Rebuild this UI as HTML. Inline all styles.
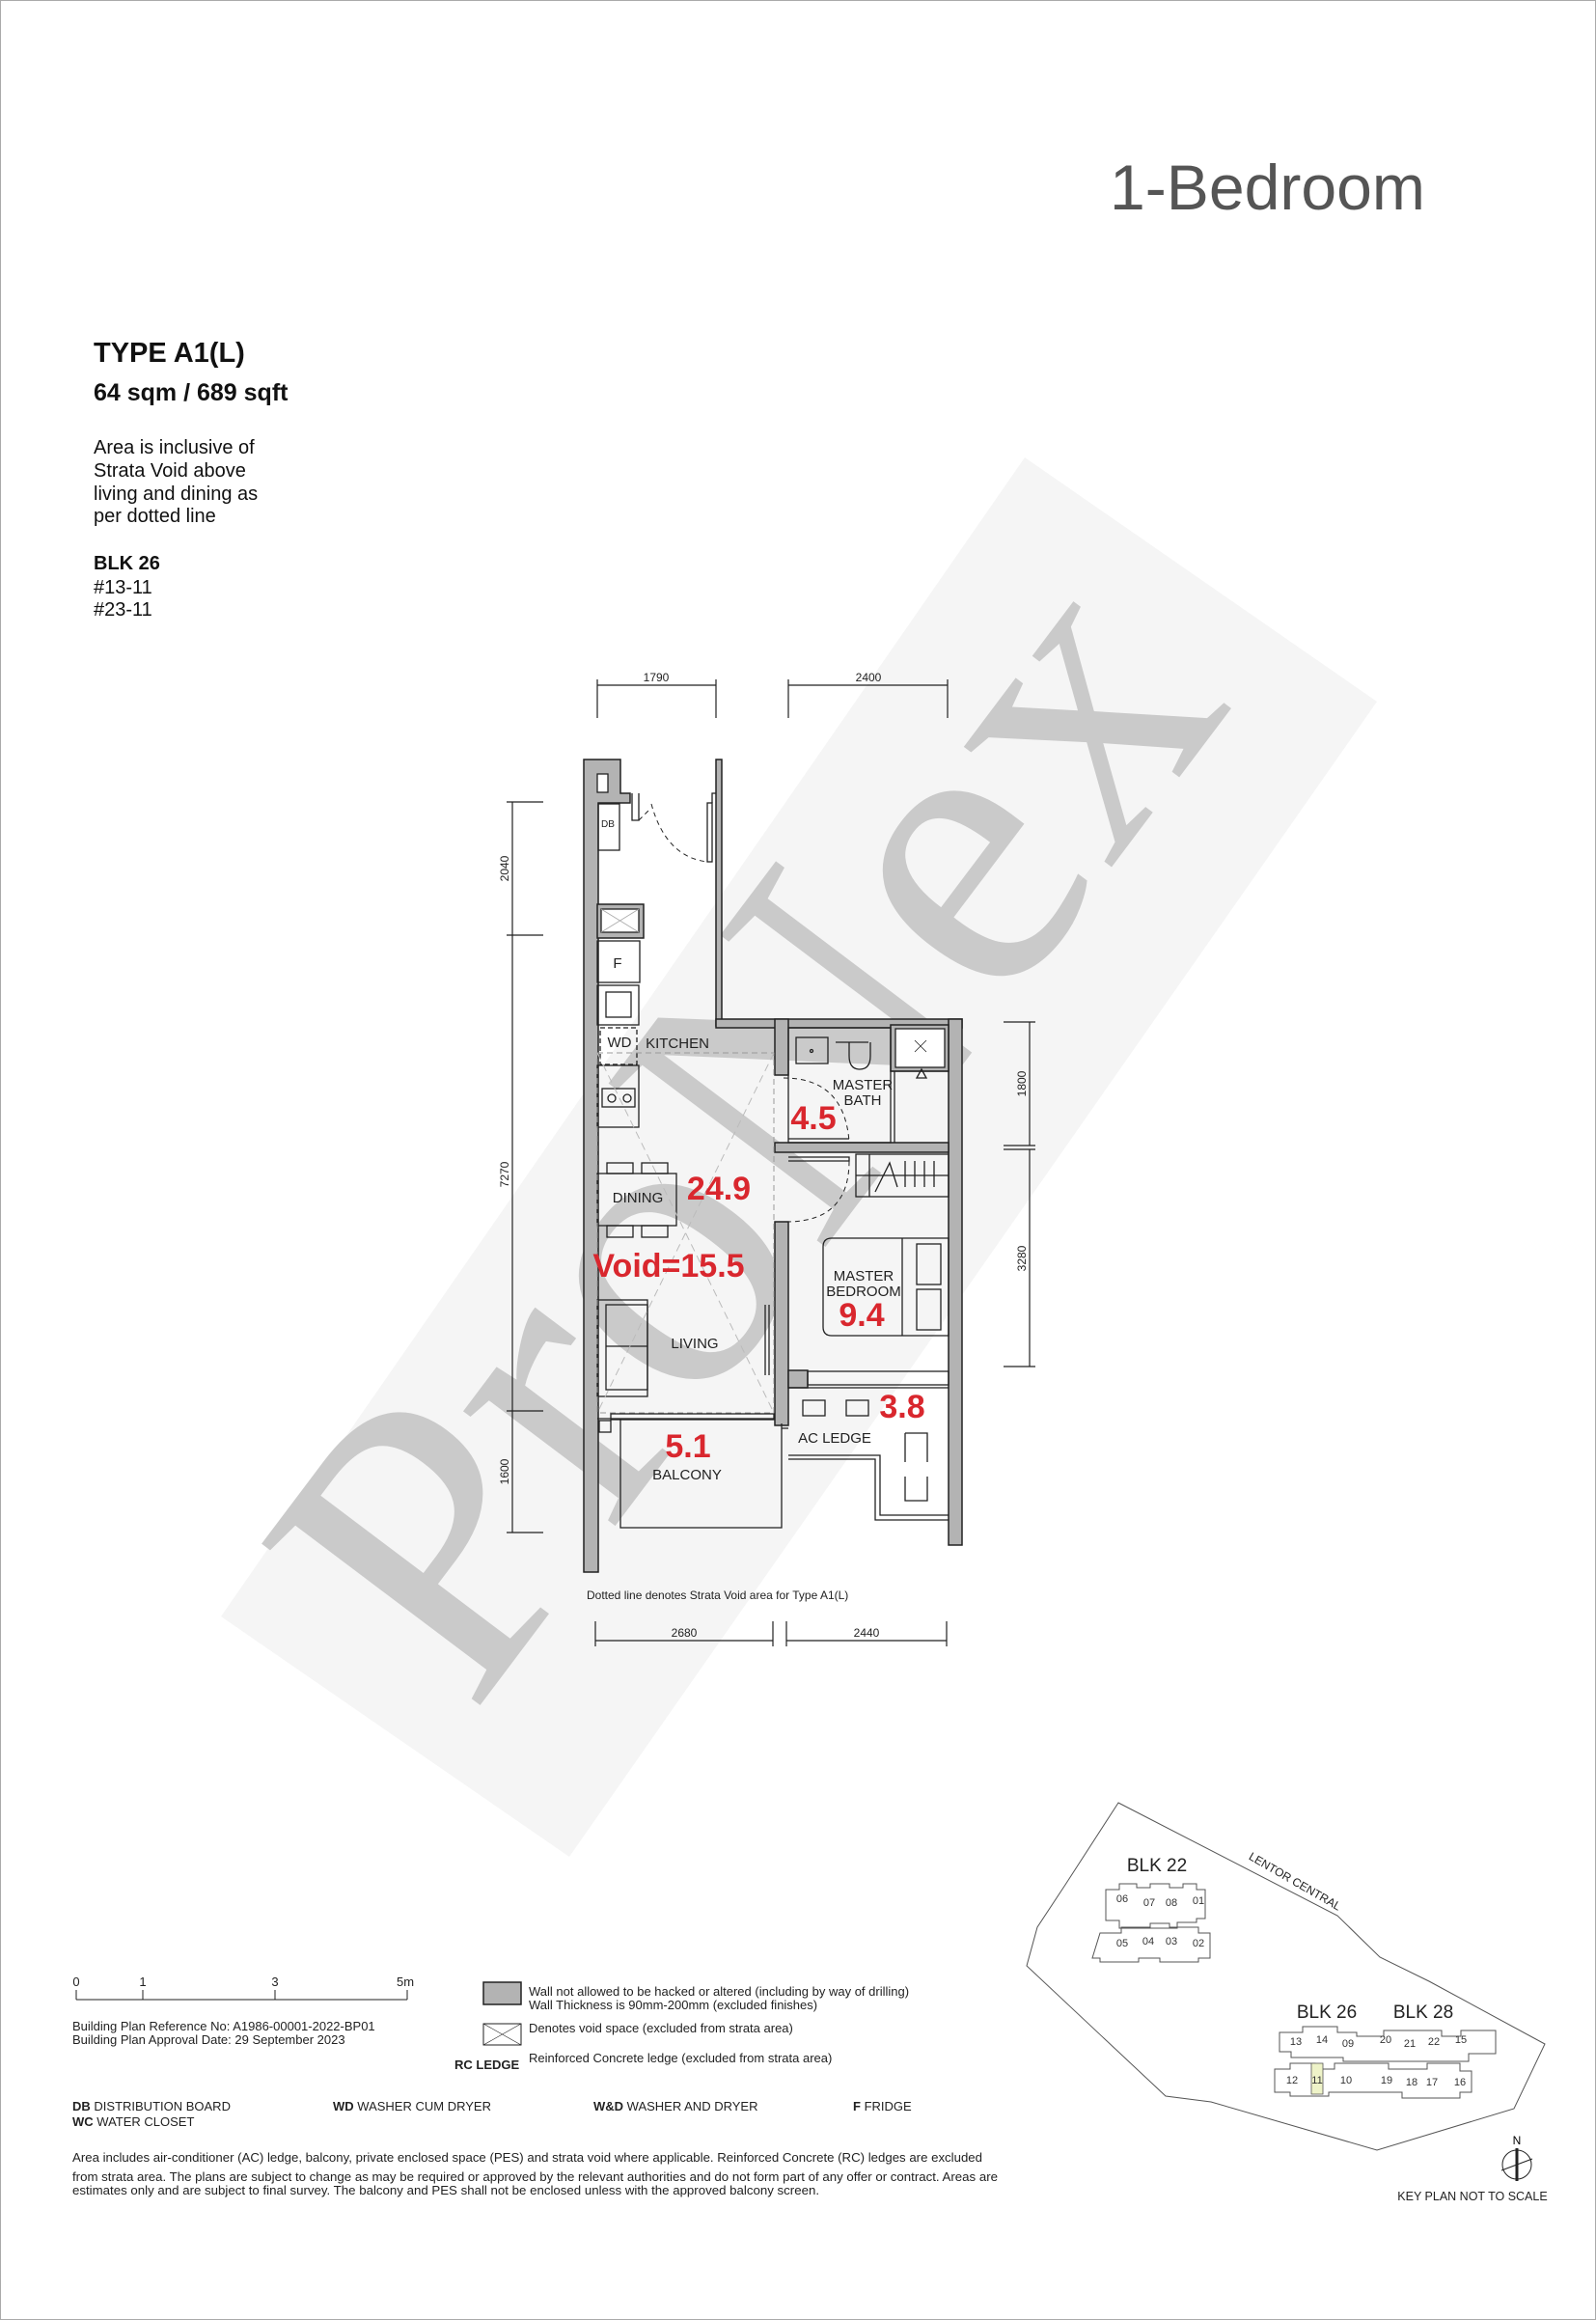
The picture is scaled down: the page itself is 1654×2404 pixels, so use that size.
<!DOCTYPE html>
<html><head><meta charset="utf-8"><style>
html,body{margin:0;padding:0;background:#fff}
svg{display:block}
text{font-family:"Liberation Sans",Arial,sans-serif}
.n{font-family:"Liberation Sans Narrow","Liberation Sans",sans-serif}
.r{fill:#d9272e;font-weight:bold;font-family:"Liberation Sans Narrow","Liberation Sans",sans-serif}
</style></head><body>
<svg width="1654" height="2404" viewBox="0 0 1654 2404" xmlns="http://www.w3.org/2000/svg">
<rect x="0.5" y="0.5" width="1653" height="2403" fill="#fff" stroke="#aaa"/>
<!-- watermark band -->
<polygon points="229,1675 1062,474 1427,727 590,1924" fill="#f5f5f5"/>
<text x="0" y="0" transform="translate(805,1195) rotate(-53)" text-anchor="middle" dominant-baseline="middle" font-size="430" fill="#cacaca" style="font-family:'Liberation Serif',serif">ProNex</text>

<!-- header -->
<text x="1150" y="217" font-size="66" fill="#555" textLength="327" lengthAdjust="spacingAndGlyphs">1-Bedroom</text>
<g fill="#111">
<text x="97" y="375" font-size="29" font-weight="bold" class="n">TYPE A1(L)</text>
<text x="97" y="415" font-size="25" font-weight="bold" class="n">64 sqm / 689 sqft</text>
<text x="97" y="470" font-size="20" class="n">Area is inclusive of</text>
<text x="97" y="494" font-size="20" class="n">Strata Void above</text>
<text x="97" y="518" font-size="20" class="n">living and dining as</text>
<text x="97" y="541" font-size="20" class="n">per dotted line</text>
<text x="97" y="590" font-size="20" font-weight="bold" class="n">BLK 26</text>
<text x="97" y="615" font-size="20" class="n">#13-11</text>
<text x="97" y="638" font-size="20" class="n">#23-11</text>
</g>

<!-- dimensions -->
<g stroke="#222" stroke-width="1.2" fill="none">
<line x1="619" y1="710" x2="742" y2="710"/><line x1="619" y1="704" x2="619" y2="744"/><line x1="742" y1="704" x2="742" y2="744"/>
<line x1="817" y1="710" x2="982" y2="710"/><line x1="817" y1="704" x2="817" y2="744"/><line x1="982" y1="704" x2="982" y2="744"/>
<line x1="531" y1="831" x2="531" y2="1588"/>
<line x1="525" y1="831" x2="563" y2="831"/><line x1="525" y1="969" x2="563" y2="969"/><line x1="525" y1="1462" x2="563" y2="1462"/><line x1="525" y1="1588" x2="563" y2="1588"/>
<line x1="1067" y1="1059" x2="1067" y2="1187"/><line x1="1067" y1="1191" x2="1067" y2="1416"/>
<line x1="1040" y1="1059" x2="1073" y2="1059"/><line x1="1040" y1="1187" x2="1073" y2="1187"/><line x1="1040" y1="1191" x2="1073" y2="1191"/><line x1="1040" y1="1416" x2="1073" y2="1416"/>
<line x1="617" y1="1700" x2="801" y2="1700"/><line x1="617" y1="1680" x2="617" y2="1706"/><line x1="801" y1="1680" x2="801" y2="1706"/>
<line x1="815" y1="1700" x2="981" y2="1700"/><line x1="815" y1="1680" x2="815" y2="1706"/><line x1="981" y1="1680" x2="981" y2="1706"/>
</g>
<g font-size="12" fill="#222" text-anchor="middle">
<text x="680" y="706">1790</text><text x="900" y="706">2400</text>
<text x="709" y="1696">2680</text><text x="898" y="1696">2440</text>
<text transform="translate(527,900) rotate(-90)">2040</text>
<text transform="translate(527,1217) rotate(-90)">7270</text>
<text transform="translate(527,1525) rotate(-90)">1600</text>
<text transform="translate(1063,1123) rotate(-90)">1800</text>
<text transform="translate(1063,1304) rotate(-90)">3280</text>
</g>

<!-- walls -->
<g fill="#b3b3b3" stroke="#222" stroke-width="1.5">
<polygon points="605,787 643,787 643,822 653,822 653,832 620,832 620,1629 605,1629"/>
<rect x="742" y="787" width="6" height="276"/>
<rect x="742" y="1056" width="255" height="9"/>
<rect x="983" y="1056" width="14" height="545"/>
<rect x="803" y="1056" width="14" height="58"/>
<rect x="803" y="1266" width="14" height="211"/>
<rect x="817" y="1420" width="20" height="18"/>
<rect x="803" y="1184" width="180" height="10"/>
<rect x="619" y="937" width="48" height="35"/>
<rect x="923" y="1062" width="60" height="48"/>
</g>
<g fill="none" stroke="#222" stroke-width="1.3">
<rect x="623" y="942" width="39" height="24" fill="#fff"/>
<path d="M623,942 L662,966 M662,942 L623,966" stroke="#aaa" stroke-width=".8"/>
<rect x="619" y="802" width="11" height="19" fill="#fff"/>
<rect x="928" y="1066" width="51" height="40" fill="#fff"/>
<path d="M948,1078 L960,1090 M960,1078 L948,1090" stroke-width=".8"/>
<!-- entrance -->
<rect x="620" y="833" width="22" height="48"/>
<text x="623" y="857" font-size="10" stroke="none" fill="#222">DB</text>
<path d="M655,822 L655,850 L662,850 L662,822"/>
<path d="M662,850 L674,838 M675,833 Q690,888 733,893" stroke-dasharray="5,4" stroke-width="1"/>
<rect x="733" y="832" width="5" height="61"/>
<path d="M738,832 L738,822 L742,822"/>
<!-- kitchen -->
<rect x="619" y="975" width="44" height="43"/>
<rect x="619" y="1021" width="43" height="41"/><rect x="628" y="1028" width="26" height="26"/>
<rect x="622" y="1065" width="38" height="38" stroke-dasharray="5,3"/>
<rect x="619" y="1104" width="43" height="64"/>
<rect x="624" y="1128" width="34" height="19"/>
<circle cx="634" cy="1138" r="4"/><circle cx="650" cy="1138" r="4"/>
<!-- dining -->
<rect x="619" y="1216" width="82" height="54"/>
<rect x="629" y="1205" width="27" height="11"/><rect x="665" y="1205" width="27" height="11"/>
<rect x="629" y="1270" width="27" height="12"/><rect x="665" y="1270" width="27" height="12"/>
<!-- sofa -->
<rect x="619" y="1347" width="52" height="100"/><rect x="628" y="1352" width="43" height="88"/>
<line x1="628" y1="1395" x2="671" y2="1395"/>
<line x1="797" y1="1352" x2="797" y2="1425"/><line x1="793" y1="1352" x2="793" y2="1425"/>
<!-- strata void dotted -->
<rect x="619" y="1091" width="183" height="373" stroke="#999" stroke-dasharray="6,4" stroke-width="1"/>
<path d="M619,1091 L802,1464 M802,1091 L619,1464" stroke="#bbb" stroke-dasharray="8,5" stroke-width="1"/>
<!-- bath -->
<rect x="817" y="1065" width="106" height="119"/>
<rect x="825" y="1075" width="33" height="27"/>
<circle cx="841" cy="1089" r="1.5"/>
<path d="M866,1080 L900,1080 M880,1080 L880,1094 Q880,1108 891,1108 Q902,1108 902,1094 L902,1080"/>
<path d="M927,1110 L927,1184 M923,1110 L983,1110"/>
<path d="M950,1117 L955,1108 L960,1117 Z"/>
<path d="M812,1117 Q875,1117 880,1183" stroke-dasharray="5,4" stroke-width="1"/>
<line x1="817" y1="1180" x2="880" y2="1180"/>
<!-- wardrobe -->
<rect x="887" y="1196" width="96" height="44"/>
<path d="M901,1196 L901,1240 M887,1218 L983,1218 M907,1235 L922,1205 L930,1230 M938,1203 L938,1230 M948,1203 L948,1230 M958,1203 L958,1230 M968,1203 L968,1230"/>
<path d="M817,1199 L880,1199 L880,1203 L817,1203"/>
<path d="M880,1203 Q880,1265 817,1266" stroke-dasharray="5,4" stroke-width="1"/>
<!-- bed -->
<path d="M862,1283 L983,1283 L983,1384 L862,1384 Q853,1384 853,1375 L853,1292 Q853,1283 862,1283 Z"/>
<line x1="935" y1="1283" x2="935" y2="1384"/>
<rect x="950" y="1289" width="25" height="42"/><rect x="950" y="1336" width="25" height="42"/>
<!-- ledge window -->
<rect x="837" y="1421" width="146" height="14"/>
<!-- ac ledge -->
<path d="M817,1438 L983,1438 M817,1512 L907,1512 L907,1575 L983,1575 M817,1508 L912,1508 L912,1570 L983,1570"/>
<rect x="832" y="1451" width="23" height="16"/><rect x="877" y="1451" width="23" height="16"/>
<path d="M938,1485 L961,1485 L961,1515 M938,1485 L938,1515 M938,1530 L938,1555 L961,1555 L961,1530"/>
<!-- balcony -->
<path d="M619,1470 L802,1470 M643,1470 L643,1583 L810,1583 L810,1475 M810,1480 L817,1480"/>
<rect x="621" y="1472" width="12" height="12"/>
<rect x="633" y="1465" width="169" height="6"/>
</g>
<!-- labels -->
<g font-size="15" fill="#222" text-anchor="middle">
<text x="642" y="1085">WD</text>
<text x="702" y="1086">KITCHEN</text>
<text x="894" y="1129">MASTER</text><text x="894" y="1145">BATH</text>
<text x="661" y="1246">DINING</text>
<text x="895" y="1327">MASTER</text><text x="895" y="1343">BEDROOM</text>
<text x="720" y="1397">LIVING</text>
<text x="865" y="1495">AC LEDGE</text>
<text x="712" y="1533">BALCONY</text>
<text x="640" y="1003">F</text>
<text x="608" y="1657" font-size="12" text-anchor="start">Dotted line denotes Strata Void area for Type A1(L)</text>
</g>
<g font-size="34" text-anchor="middle">
<text class="r" x="745" y="1243">24.9</text>
<text class="r" x="693" y="1323">Void=15.5</text>
<text class="r" x="843" y="1170">4.5</text>
<text class="r" x="893" y="1374">9.4</text>
<text class="r" x="935" y="1469">3.8</text>
<text class="r" x="713" y="1510">5.1</text>
</g>

<!-- scale & legend -->
<g fill="#222" font-size="13">
<line x1="79" y1="2072" x2="422" y2="2072" stroke="#222"/>
<line x1="79" y1="2062" x2="79" y2="2072" stroke="#222"/><line x1="148" y1="2062" x2="148" y2="2072" stroke="#222"/>
<line x1="285" y1="2062" x2="285" y2="2072" stroke="#222"/><line x1="422" y1="2062" x2="422" y2="2072" stroke="#222"/>
<text x="79" y="2058" text-anchor="middle">0</text><text x="148" y="2058" text-anchor="middle">1</text><text x="285" y="2058" text-anchor="middle">3</text><text x="420" y="2058" text-anchor="middle">5m</text>
<text x="75" y="2104" class="n">Building Plan Reference No: A1986-00001-2022-BP01</text>
<text x="75" y="2118" class="n">Building Plan Approval Date: 29 September 2023</text>
<rect x="501" y="2054" width="39" height="23" fill="#b3b3b3" stroke="#222" stroke-width="1.5"/>
<text x="548" y="2068" class="n">Wall not allowed to be hacked or altered (including by way of drilling)</text>
<text x="548" y="2082" class="n">Wall Thickness is 90mm-200mm (excluded finishes)</text>
<rect x="501" y="2097" width="39" height="22" fill="#fff" stroke="#222"/>
<path d="M501,2097 L540,2119 M540,2097 L501,2119" stroke="#222" stroke-width=".6"/>
<text x="548" y="2106" class="n">Denotes void space (excluded from strata area)</text>
<text x="548" y="2137" class="n">Reinforced Concrete ledge (excluded from strata area)</text>
<text x="471" y="2144" class="n" font-weight="bold">RC LEDGE</text>
<text x="75" y="2187" class="n"><tspan font-weight="bold">DB</tspan>   DISTRIBUTION BOARD</text>
<text x="345" y="2187" class="n"><tspan font-weight="bold">WD</tspan> WASHER CUM DRYER</text>
<text x="615" y="2187" class="n"><tspan font-weight="bold">W&amp;D</tspan> WASHER AND DRYER</text>
<text x="884" y="2187" class="n"><tspan font-weight="bold">F</tspan> FRIDGE</text>
<text x="75" y="2203" class="n"><tspan font-weight="bold">WC</tspan> WATER CLOSET</text>
<text x="75" y="2240" font-size="12.5" class="n" textLength="943" lengthAdjust="spacingAndGlyphs">Area includes air-conditioner (AC) ledge, balcony, private enclosed space (PES) and strata void where applicable. Reinforced Concrete (RC) ledges are excluded</text>
<text x="75" y="2260" font-size="12.5" class="n" textLength="959" lengthAdjust="spacingAndGlyphs">from strata area. The plans are subject to change as may be required or approved by the relevant authorities and do not form part of any offer or contract. Areas are</text>
<text x="75" y="2274" font-size="12.5" class="n" textLength="774" lengthAdjust="spacingAndGlyphs">estimates only and are subject to final survey. The balcony and PES shall not be enclosed unless with the approved balcony screen.</text>
</g>

<!-- key plan -->
<g fill="none" stroke="#555" stroke-width="1">
<polygon points="1159,1868 1386,1985 1430,2028 1481,2053 1601,2118 1569,2185 1427,2228 1255,2178 1208,2172 1064,2037 1075,1997 1104,1953"/>
<path d="M1146,1958 h14 v-6 h18 v4 h14 v-4 h20 v4 h14 v-4 h14 v6 h9 v30 h-9 v4 h-20 v6 h-60 v-8 h-14 z"/>
<path d="M1140,2003 h22 v-6 h30 v-4 h20 v4 h30 v6 h12 v26 h-12 v4 h-40 v-4 h-22 v4 h-40 v-4 h-8 z"/>
<path d="M1326,2106 h24 v-6 h36 v6 h20 v4 h28 v-6 h60 v6 h20 v-6 h36 v24 h-28 v8 h-130 v-4 h-54 v-6 h-12 z"/>
<path d="M1321,2144 h16 v-6 h26 v6 h20 v-6 h56 v6 h40 v-6 h34 v8 h12 v22 h-12 v6 h-60 v-6 h-76 v4 h-40 v-4 h-16 z"/>
</g>
<rect x="1359" y="2138" width="12" height="32" fill="#eef3c8" stroke="#555" stroke-width=".8"/>
<g fill="#222" text-anchor="middle">
<text x="1199" y="1939" font-size="19">BLK 22</text>
<text x="1375" y="2091" font-size="19">BLK 26</text>
<text x="1475" y="2091" font-size="19">BLK 28</text>
<text transform="translate(1340,1953) rotate(30)" font-size="12">LENTOR CENTRAL</text>
</g>
<g fill="#333" font-size="11" text-anchor="middle">
<text x="1163" y="1971">06</text><text x="1191" y="1975">07</text><text x="1214" y="1975">08</text><text x="1242" y="1973">01</text>
<text x="1163" y="2017">05</text><text x="1190" y="2015">04</text><text x="1214" y="2015">03</text><text x="1242" y="2017">02</text>
<text x="1343" y="2119">13</text><text x="1370" y="2117">14</text><text x="1397" y="2121">09</text><text x="1436" y="2117">20</text><text x="1461" y="2121">21</text><text x="1486" y="2119">22</text><text x="1514" y="2117">15</text>
<text x="1339" y="2159">12</text><text x="1365" y="2159">11</text><text x="1395" y="2159">10</text><text x="1437" y="2159">19</text><text x="1463" y="2161">18</text><text x="1484" y="2161">17</text><text x="1513" y="2161">16</text>
</g>
<circle cx="1572" cy="2243" r="15" fill="none" stroke="#222"/>
<line x1="1572" y1="2226" x2="1572" y2="2260" stroke="#222" stroke-width="3"/>
<line x1="1556" y1="2249" x2="1588" y2="2237" stroke="#222"/>
<text x="1572" y="2222" font-size="12" text-anchor="middle">N</text>
<text x="1526" y="2280" font-size="12.5" text-anchor="middle" class="n" fill="#222">KEY PLAN NOT TO SCALE</text>
</svg>
</body></html>
